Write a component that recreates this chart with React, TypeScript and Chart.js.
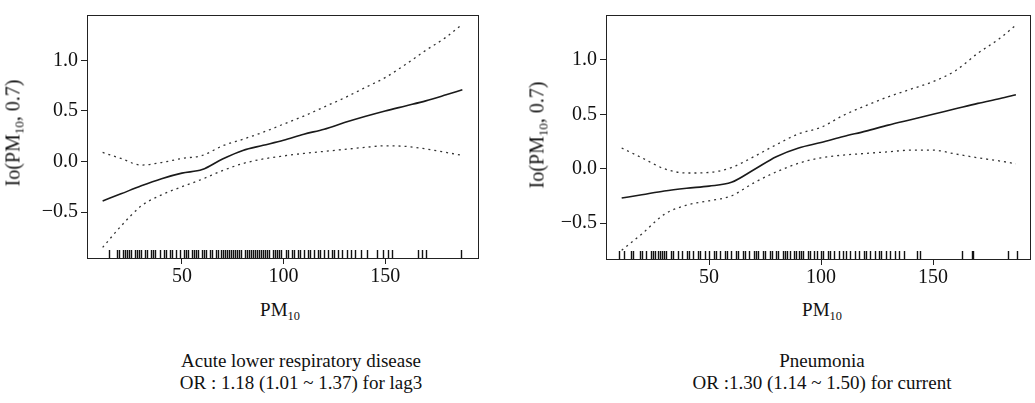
import React, { useEffect, useRef } from "react";
import { Chart, registerables } from "chart.js";

Chart.register(...registerables);

const FONT = '"Liberation Serif", "DejaVu Serif", "Times New Roman", serif';

// ---- Left panel: Acute lower respiratory disease (lag3) ----
const LEFT_PM = [11, 20, 30, 40, 50, 60, 70, 80, 90, 100, 110, 120, 130, 140, 150, 160, 170, 180, 188];
const LEFT_FIT = [-0.39, -0.32, -0.24, -0.17, -0.115, -0.08, 0.025, 0.11, 0.16, 0.21, 0.27, 0.32, 0.385, 0.445, 0.5, 0.55, 0.6, 0.66, 0.71];
const LEFT_UPPER = [0.09, 0.03, -0.035, -0.01, 0.03, 0.06, 0.155, 0.22, 0.29, 0.37, 0.45, 0.54, 0.63, 0.73, 0.83, 0.96, 1.1, 1.23, 1.36];
const LEFT_LOWER = [-0.85, -0.64, -0.44, -0.33, -0.25, -0.175, -0.09, -0.02, 0.025, 0.055, 0.08, 0.1, 0.12, 0.14, 0.155, 0.15, 0.125, 0.09, 0.06];
const LEFT_RUG = [
  14, 18, 19, 21, 22, 23, 24, 25, 27, 28, 29, 30, 32, 33, 35, 36, 37, 39, 41, 42, 44, 45, 47, 49,
  51, 52, 53, 55, 56, 57, 58, 60, 61, 62, 64, 65, 67, 68, 69, 70, 71, 72, 73, 74, 75, 76, 77, 78,
  79, 81, 82, 83, 84, 85, 86, 87, 88, 89, 90, 91, 92, 93, 95, 96, 97, 98, 99, 101, 102, 104, 105,
  107, 108, 110, 112, 113, 115, 117, 118, 120, 122, 124, 125, 127, 129, 131, 133, 135, 138, 141,
  146, 149, 151.5, 153.5, 166, 168, 170, 187.5,
];

// ---- Right panel: Pneumonia (current) ----
const RIGHT_PM = [11, 20, 30, 40, 50, 60, 70, 80, 90, 100, 110, 120, 130, 140, 150, 160, 170, 180, 187];
const RIGHT_FIT = [-0.27, -0.24, -0.205, -0.18, -0.16, -0.125, -0.01, 0.11, 0.19, 0.24, 0.295, 0.345, 0.4, 0.45, 0.5, 0.55, 0.6, 0.645, 0.68];
const RIGHT_UPPER = [0.19, 0.1, 0.0, -0.04, -0.035, 0.01, 0.11, 0.22, 0.32, 0.38, 0.49, 0.58, 0.66, 0.73, 0.8, 0.9, 1.06, 1.2, 1.32];
const RIGHT_LOWER = [-0.75, -0.6, -0.42, -0.335, -0.295, -0.25, -0.13, -0.03, 0.05, 0.1, 0.125, 0.14, 0.155, 0.17, 0.17, 0.135, 0.1, 0.07, 0.045];
const RIGHT_RUG = [
  10, 12, 15, 16, 19, 20, 22, 24, 25, 26, 27, 28, 29, 30, 31, 33, 34, 36, 38, 40, 41, 43, 45, 46,
  48, 50, 52, 53, 55, 57, 58, 60, 62, 63, 65, 66, 68, 70, 71, 72, 74, 75, 77, 78, 80, 81, 83, 84,
  85, 86, 88, 89, 90, 91, 92, 94, 95, 97, 98, 100, 101, 103, 104, 106, 108, 110, 111, 113, 115, 117,
  119, 120, 122, 124, 126, 127, 129, 131, 133, 135, 137, 143, 144.2, 163, 167.3, 168, 183.5, 187.4,
];

const X_TICK_STEP = 50;
const Y_TICK_STEP = 0.5;

const framePlugin = {
  id: "frame",
  afterDatasetsDraw(chart: any, _args: any, opts: any) {
    const { ctx, chartArea: a, scales } = chart;
    ctx.save();
    ctx.strokeStyle = "#222";
    ctx.lineWidth = 1;
    ctx.strokeRect(Math.round(a.left) + 0.5, Math.round(a.top) + 0.5, Math.round(a.right - a.left), Math.round(a.bottom - a.top));
    const vals: number[] = (opts && opts.values) || [];
    ctx.beginPath();
    for (const v of vals) {
      const px = Math.round(scales.x.getPixelForValue(v)) + 0.5;
      ctx.moveTo(px, a.bottom);
      ctx.lineTo(px, a.bottom - 8);
    }
    ctx.strokeStyle = "#111";
    ctx.lineWidth = 1.4;
    ctx.stroke();
    ctx.restore();
  },
};

const fmtY = (v: number) => {
  const r = Math.round(v * 10) / 10;
  return r < 0 ? "\u2212" + Math.abs(r).toFixed(1) : r.toFixed(1);
};

type PanelProps = {
  left: number;
  width: number;
  height: number;
  xs: number[];
  fit: number[];
  upper: number[];
  lower: number[];
  rug: number[];
  xMin: number;
  xMax: number;
  yMin: number;
  yMax: number;
  yAxisW: number;
  xAxisH: number;
  padR: number;
  padT: number;
};

function Panel(p: PanelProps) {
  const ref = useRef<HTMLCanvasElement>(null);
  useEffect(() => {
    const pts = (ys: number[]) => p.xs.map((x, i) => ({ x, y: ys[i] }));
    const tickFont = { family: FONT, size: 20 };
    const chart = new Chart(ref.current as HTMLCanvasElement, {
      type: "line",
      data: {
        datasets: [
          { data: pts(p.fit), borderColor: "#1a1a1a", borderWidth: 1.6, pointRadius: 0, cubicInterpolationMode: "monotone" },
          { data: pts(p.upper), borderColor: "#333", borderWidth: 1.3, borderDash: [2, 4], pointRadius: 0, cubicInterpolationMode: "monotone" },
          { data: pts(p.lower), borderColor: "#333", borderWidth: 1.3, borderDash: [2, 4], pointRadius: 0, cubicInterpolationMode: "monotone" },
        ],
      },
      options: {
        responsive: false,
        animation: false,
        devicePixelRatio: 1,
        layout: { padding: { top: p.padT, right: p.padR, left: 0, bottom: 0 } },
        plugins: {
          legend: { display: false },
          tooltip: { enabled: false },
          frame: { values: p.rug },
        } as any,
        scales: {
          x: {
            type: "linear",
            min: p.xMin,
            max: p.xMax,
            afterFit: (s: any) => {
              s.height = p.xAxisH;
            },
            grid: { drawOnChartArea: false, drawTicks: true, tickLength: 6, color: "#222" },
            border: { display: true, color: "#222" },
            ticks: {
              stepSize: X_TICK_STEP,
              includeBounds: false,
              font: tickFont,
              color: "#111",
              padding: 1,
              maxRotation: 0,
              callback: (v: any) => String(v),
            },
          },
          y: {
            type: "linear",
            min: p.yMin,
            max: p.yMax,
            afterFit: (s: any) => {
              s.width = p.yAxisW;
            },
            grid: { drawOnChartArea: false, drawTicks: true, tickLength: 6, color: "#222" },
            border: { display: true, color: "#222" },
            ticks: {
              stepSize: Y_TICK_STEP,
              includeBounds: false,
              font: tickFont,
              color: "#111",
              padding: 3,
              callback: (v: any) => fmtY(Number(v)),
            },
          },
        },
      } as any,
      plugins: [framePlugin as any],
    });
    return () => chart.destroy();
  }, []);
  return (
    <canvas
      ref={ref}
      width={p.width}
      height={p.height}
      style={{ position: "absolute", left: p.left, top: 0, width: p.width, height: p.height }}
    />
  );
}

const Sub = ({ children }: { children: React.ReactNode }) => (
  <span style={{ fontSize: "0.65em", position: "relative", top: "0.3em", color: "#111" }}>{children}</span>
);

function YTitle({ x, y }: { x: number; y: number }) {
  return (
    <div
      style={{
        position: "absolute",
        left: x,
        top: y,
        transform: "translate(-50%, -50%) rotate(-90deg)",
        whiteSpace: "nowrap",
        fontSize: 20,
        lineHeight: "22px",
        color: "#111",
      }}
    >
      Io(PM<Sub>10</Sub>, 0.7)
    </div>
  );
}

function XTitle({ x, y }: { x: number; y: number }) {
  return (
    <div
      style={{
        position: "absolute",
        left: x,
        top: y,
        transform: "translate(-50%, -50%)",
        whiteSpace: "nowrap",
        fontSize: 19,
        lineHeight: "22px",
        color: "#111",
      }}
    >
      PM<Sub>10</Sub>
    </div>
  );
}

function Caption({ x, top, lines }: { x: number; top: number; lines: string[] }) {
  return (
    <div
      style={{
        position: "absolute",
        left: x,
        top,
        transform: "translateX(-50%)",
        whiteSpace: "nowrap",
        textAlign: "center",
        fontSize: 19,
        lineHeight: "22px",
        color: "#111",
      }}
    >
      {lines.map((l, i) => (
        <div key={i}>{l}</div>
      ))}
    </div>
  );
}

export default function App() {
  useEffect(() => {
    document.body.style.margin = "0";
  }, []);
  return (
    <div style={{ position: "relative", width: 1035, height: 403, fontFamily: FONT, color: "#111", background: "#fff", overflow: "hidden" }}>
      <Panel
        left={0}
        width={490}
        height={290}
        xs={LEFT_PM}
        fit={LEFT_FIT}
        upper={LEFT_UPPER}
        lower={LEFT_LOWER}
        rug={LEFT_RUG}
        xMin={3.3}
        xMax={195.7}
        yMin={-0.955}
        yMax={1.45}
        yAxisW={87}
        xAxisH={32}
        padR={12}
        padT={6}
      />
      <Panel
        left={520}
        width={515}
        height={290}
        xs={RIGHT_PM}
        fit={RIGHT_FIT}
        upper={RIGHT_UPPER}
        lower={RIGHT_LOWER}
        rug={RIGHT_RUG}
        xMin={4}
        xMax={193.3}
        yMin={-0.83}
        yMax={1.412}
        yAxisW={86}
        xAxisH={31}
        padR={5}
        padT={6}
      />
      <YTitle x={14} y={133} />
      <YTitle x={538} y={135} />
      <XTitle x={280} y={311} />
      <XTitle x={822} y={311} />
      <Caption x={301} top={350} lines={["Acute lower respiratory disease", "OR : 1.18 (1.01 ~ 1.37) for lag3"]} />
      <Caption x={822} top={350} lines={["Pneumonia", "OR :1.30 (1.14 ~ 1.50) for current"]} />
    </div>
  );
}
